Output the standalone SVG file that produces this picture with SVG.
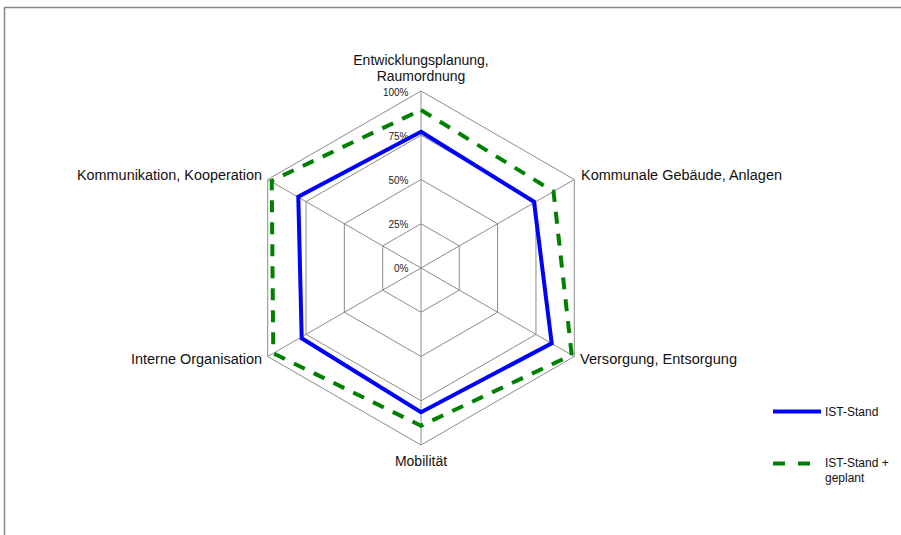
<svg xmlns="http://www.w3.org/2000/svg" width="901" height="535" viewBox="0 0 901 535">
<style>
.grid{fill:none;stroke:#8c8c8c;stroke-width:1}
.lbl{font-family:"Liberation Sans",Arial,sans-serif;font-size:14px;fill:#111}
.tick{font-family:"Liberation Sans",Arial,sans-serif;font-size:10px;fill:#222;text-anchor:end}
.leg{font-family:"Liberation Sans",Arial,sans-serif;font-size:12px;fill:#111}
.ist{fill:none;stroke:#0000ff;stroke-width:4;stroke-linejoin:miter}
.plan{fill:none;stroke:#008000;stroke-width:4;stroke-dasharray:12 10}
</style>
<rect x="0" y="0" width="901" height="535" fill="#ffffff"/>
<path d="M4.5 535 V7.5 H901" fill="none" stroke="#888" stroke-width="1.5"/>
<g id="grid">
<polygon class="grid" points="421,91 574.3,179.5 574.3,356.5 421,445 267.7,356.5 267.7,179.5"/>
<polygon class="grid" points="421,135.25 535.96,201.6 535.96,334.4 421,400.75 306.04,334.4 306.04,201.6"/>
<polygon class="grid" points="421,179.5 497.64,223.75 497.64,312.25 421,356.5 344.36,312.25 344.36,223.75"/>
<polygon class="grid" points="421,223.75 459.32,245.875 459.32,290.125 421,312.25 382.68,290.125 382.68,245.875"/>
<path class="grid" d="M421 268 L421 91 M421 268 L574.3 179.5 M421 268 L574.3 356.5 M421 268 L421 445 M421 268 L267.7 356.5 M421 268 L267.7 179.5"/>
</g>
<g id="ticks">
<text class="tick" x="408.5" y="95.5">100%</text>
<text class="tick" x="408.5" y="139.5">75%</text>
<text class="tick" x="408.5" y="184">50%</text>
<text class="tick" x="408.5" y="228">25%</text>
<text class="tick" x="408.5" y="272">0%</text>
</g>
<g id="series">
<polygon id="ist-stand" class="ist" points="421,131.7 534,201.7 551.7,343.3 421,412.3 301.7,338.3 298.3,196.7"/>
<polygon id="ist-geplant" class="plan" points="421,110 553.5,191.5 571.7,355 421,425.7 273.3,353.3 271.7,180.7"/>
</g>
<g id="axis-entwicklung"><text class="lbl" x="421" y="65" text-anchor="middle">Entwicklungsplanung,</text><text class="lbl" x="421" y="81" text-anchor="middle">Raumordnung</text></g>
<g id="axis-gebaeude"><text class="lbl" x="581" y="180" textLength="201" lengthAdjust="spacingAndGlyphs">Kommunale Gebäude, Anlagen</text></g>
<g id="axis-versorgung"><text class="lbl" x="580" y="364" textLength="157" lengthAdjust="spacingAndGlyphs">Versorgung, Entsorgung</text></g>
<g id="axis-mobilitaet"><text class="lbl" x="421" y="466" text-anchor="middle">Mobilität</text></g>
<g id="axis-organisation"><text class="lbl" x="131" y="364" textLength="131" lengthAdjust="spacingAndGlyphs">Interne Organisation</text></g>
<g id="axis-kommunikation"><text class="lbl" x="77" y="180" textLength="185" lengthAdjust="spacingAndGlyphs">Kommunikation, Kooperation</text></g>
<g id="legend">
<line x1="773" y1="411.5" x2="821" y2="411.5" stroke="#0000ff" stroke-width="4"/>
<text class="leg" x="825" y="416">IST-Stand</text>
<line x1="773" y1="463.5" x2="822" y2="463.5" stroke="#008000" stroke-width="4" stroke-dasharray="12 13"/>
<text class="leg" x="825" y="467">IST-Stand +</text>
<text class="leg" x="825" y="482">geplant</text>
</g>
</svg>
